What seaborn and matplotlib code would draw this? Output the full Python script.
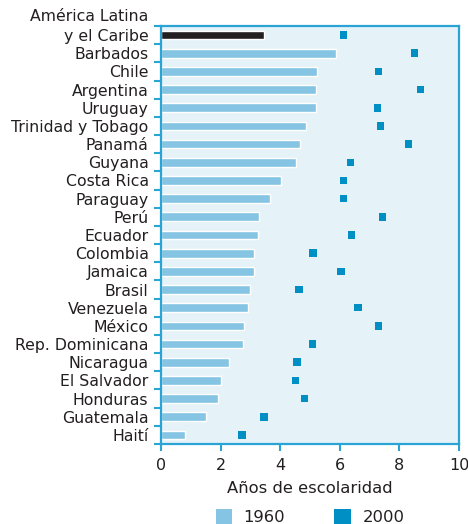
import matplotlib
matplotlib.use("Agg")
import matplotlib.pyplot as plt
import seaborn as sns
import pandas as pd
import numpy as np
from matplotlib.patches import Patch
from matplotlib.ticker import FixedLocator
from matplotlib.transforms import blended_transform_factory

paises = ["y el Caribe", "Barbados", "Chile", "Argentina", "Uruguay",
          "Trinidad y Tobago", "Panamá", "Guyana", "Costa Rica", "Paraguay", "Perú",
          "Ecuador", "Colombia", "Jamaica", "Brasil", "Venezuela", "México",
          "Rep. Dominicana", "Nicaragua", "El Salvador", "Honduras", "Guatemala", "Haití"]
titulo_region = "América Latina"
v1960 = [3.45, 5.87, 5.24, 5.20, 5.20, 4.87, 4.66, 4.53, 4.02, 3.66, 3.28,
         3.25, 3.12, 3.12, 2.98, 2.91, 2.78, 2.75, 2.28, 2.01, 1.91, 1.50, 0.80]
v2000 = [6.12, 8.51, 7.30, 8.71, 7.26, 7.36, 8.31, 6.36, 6.12, 6.12, 7.43,
         6.39, 5.11, 6.05, 4.64, 6.62, 7.30, 5.08, 4.57, 4.51, 4.81, 3.46, 2.72]
xticks = [0, 2, 4, 6, 8, 10]

C1960 = "#85c5e3"
C2000 = "#008fc4"
CLAT = "#231f20"
SPINE = "#2aa3d5"
BG = "#e5f2f8"
TXT = "#231f20"

df = pd.DataFrame({"pais": paises, "v1960": v1960, "v2000": v2000})
palette = {p: (CLAT if i == 0 else C1960) for i, p in enumerate(paises)}

sns.set_style("white")
plt.rcParams["font.family"] = ["DejaVu Sans"]

fig = plt.figure(figsize=(4.68, 5.24), dpi=100)
ax = fig.add_axes([161 / 468, 1 - 444 / 524, (459 - 161) / 468, (444 - 26) / 524])
ax.set_facecolor(BG)

sns.barplot(data=df, y="pais", x="v1960", hue="pais", palette=palette, legend=False,
            width=0.48, ax=ax, saturation=1, orient="h")
sns.scatterplot(data=df, y="pais", x="v2000", marker="s", color=C2000, s=30,
                edgecolor="none", ax=ax, zorder=5)

n = len(paises)
ax.set_xlim(0, 10)
ax.set_ylim(n - 0.5, -0.5)
ax.set_xticks(xticks)
ax.set_xticklabels([str(t) for t in xticks], fontsize=11.5, color=TXT)

LFS = 11.3
ax.yaxis.set_major_locator(FixedLocator(np.arange(-0.5, n, 1.0)))
ax.yaxis.set_minor_locator(FixedLocator(np.arange(0, n, 1.0)))
ax.set_yticklabels([""] * (n + 1))
ax.set_yticklabels(paises, minor=True, fontsize=LFS, color=TXT)
ax.tick_params(axis="y", which="major", left=True, length=5, width=1.5, color=SPINE, direction="out")
ax.tick_params(axis="y", which="minor", left=True, length=0, pad=9)
ax.tick_params(axis="x", which="major", bottom=True, length=5, width=1.5, color=SPINE,
               direction="out", pad=5)

trans = blended_transform_factory(ax.transAxes, ax.transData)
ax.annotate(titulo_region, xy=(0, -1.05), xycoords=trans, xytext=(-9, 0),
            textcoords="offset points", ha="right", va="center", fontsize=LFS,
            color=TXT, annotation_clip=False)

for s in ax.spines.values():
    s.set_color(SPINE)
    s.set_linewidth(1.6)
    s.set_visible(True)

ax.set_ylabel("")
ax.set_xlabel("Años de escolaridad", fontsize=11.8, color=TXT, labelpad=6)

handles = [Patch(facecolor=C1960, edgecolor="none", label="1960"),
           Patch(facecolor=C2000, edgecolor="none", label="2000")]
fig.legend(handles=handles, loc="lower center", bbox_to_anchor=(310 / 468, -0.03), ncol=2,
           frameon=False, fontsize=11.8, handlelength=1.0, handleheight=1.0,
           columnspacing=3.0, handletextpad=0.7, labelcolor=TXT)

fig.savefig("out.png", dpi=100, facecolor="white")
